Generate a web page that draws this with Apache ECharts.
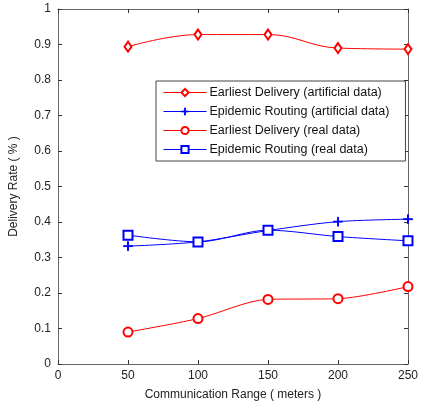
<!DOCTYPE html>
<html>
<head>
<meta charset="utf-8">
<script src="https://cdn.jsdelivr.net/npm/echarts@6/dist/echarts.min.js"></script>
<style>
html, body { margin: 0; padding: 0; background: #fff; }
#chart { width: 421px; height: 410px; }
</style>
</head>
<body>
<div id="chart"></div>
<script>
var ranges = [50, 100, 150, 200, 250];
var earliestArtificial = [0.894, 0.928, 0.928, 0.890, 0.887];
var epidemicArtificial = [0.332, 0.344, 0.376, 0.401, 0.408];
var earliestReal = [0.090, 0.128, 0.182, 0.184, 0.218];
var epidemicReal = [0.363, 0.344, 0.377, 0.359, 0.347];
var seriesNames = [
    'Earliest Delivery (artificial data)',
    'Epidemic Routing (artificial data)',
    'Earliest Delivery (real data)',
    'Epidemic Routing (real data)'
];

var font = '"Liberation Sans", Arial, sans-serif';
var plus = 'path://M4.5,0h1v4.5h4.5v1h-4.5v4.5h-1v-4.5h-4.5v-1h4.5z';

function pairs(vals) {
    return ranges.map(function (x, i) { return [x, vals[i]]; });
}

function makeSeries(name, vals, color, symbol, size, smooth) {
    return {
        name: name,
        type: 'line',
        data: pairs(vals),
        smooth: smooth,
        symbol: symbol,
        symbolSize: size,
        showAllSymbol: true,
        clip: false,
        lineStyle: { color: color, width: 1 },
        itemStyle: { color: color, borderColor: color, borderWidth: 1 }
    };
}

var frameAxis = {
    show: true,
    onZero: false,
    lineStyle: { color: '#666', width: 1 }
};
var ticks = { inside: true, length: 4, lineStyle: { color: '#333' } };

var chart = echarts.init(document.getElementById('chart'));
var option = {
    animation: false,
    textStyle: { fontFamily: font },
    grid: { left: 53, top: 9, right: 9, bottom: 46, containLabel: false },
    legend: {
        left: 156,
        top: 81,
        orient: 'vertical',
        padding: [5, 16, 5, 7],
        itemWidth: 43,
        itemHeight: 9,
        itemGap: 6,
        backgroundColor: '#fff',
        borderColor: '#444',
        borderWidth: 1,
        borderRadius: 0,
        lineStyle: { width: 1 },
        itemStyle: { borderWidth: 1 },
        textStyle: { fontFamily: font, fontSize: 12.5, color: '#111', padding: [0, 0, 0, -2] },
        data: seriesNames
    },
    xAxis: [{
        type: 'value',
        min: 0, max: 250, interval: 50,
        name: 'Communication Range ( meters )',
        nameLocation: 'middle',
        nameGap: 25,
        nameTextStyle: { fontFamily: font, fontSize: 12, color: '#222' },
        axisLine: frameAxis,
        axisTick: ticks,
        axisLabel: { fontFamily: font, fontSize: 12, color: '#222', margin: 6 },
        splitLine: { show: false }
    }, {
        type: 'value',
        position: 'top',
        min: 0, max: 250, interval: 50,
        axisLine: frameAxis,
        axisTick: ticks,
        axisLabel: { show: false },
        splitLine: { show: false }
    }],
    yAxis: [{
        type: 'value',
        min: 0, max: 1, interval: 0.1,
        name: 'Delivery Rate ( % )',
        nameLocation: 'middle',
        nameGap: 38,
        nameTextStyle: { fontFamily: font, fontSize: 12, color: '#222' },
        axisLine: frameAxis,
        axisTick: ticks,
        axisLabel: {
            fontFamily: font, fontSize: 12, color: '#222', margin: 7,
            formatter: function (v) { return Math.round(v * 10) / 10 + ''; }
        },
        splitLine: { show: false }
    }, {
        type: 'value',
        position: 'right',
        min: 0, max: 1, interval: 0.1,
        axisLine: frameAxis,
        axisTick: ticks,
        axisLabel: { show: false },
        splitLine: { show: false }
    }],
    series: [
        makeSeries(seriesNames[0], earliestArtificial, '#ff0000', 'emptyDiamond', [7, 10], 0.4),
        makeSeries(seriesNames[1], epidemicArtificial, '#0000ff', plus, 9, 0.3),
        makeSeries(seriesNames[2], earliestReal, '#ff0000', 'emptyCircle', 9, 0.3),
        makeSeries(seriesNames[3], epidemicReal, '#0000ff', 'emptyRect', 9, 0.3)
    ]
};
chart.setOption(option);
</script>
</body>
</html>
